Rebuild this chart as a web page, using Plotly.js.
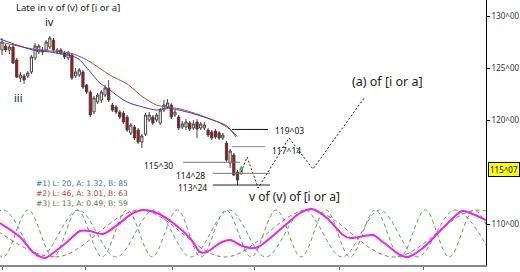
<!DOCTYPE html>
<html><head><meta charset="utf-8">
<script src="https://cdn.plot.ly/plotly-3.0.1.min.js"></script>
<style>html,body{margin:0;padding:0;background:#fff}#chart{width:520px;height:272px}</style>
</head><body><div id="chart"></div>
<script>
// ---- candles (bar index 0..65) ----
const candleOpen = [126.73,127.12,126.73,127.02,125.77,124.04,124.23,124.23,124.62,125.96,126.54,126.73,126.73,127.02,127.69,126.54,126.73,126.44,125.96,126.25,124.23,124.33,124.62,123.37,122.69,120.77,121.73,121.92,122.40,123.08,121.44,121.25,120.77,120.67,120.29,118.75,119.33,119.04,117.88,118.65,120.00,120.29,120.00,119.71,120.96,121.25,121.44,120.48,120.29,119.33,119.33,119.71,119.23,119.81,119.23,119.23,119.04,118.85,118.94,118.75,118.27,117.79,115.87,116.64,115.00,114.81];
const candleHigh = [127.89,127.31,127.21,127.31,125.96,124.62,124.42,124.71,126.25,127.40,127.31,127.02,127.69,128.08,127.89,126.92,126.92,126.64,126.64,126.44,125.00,125.00,124.81,123.46,122.88,122.31,122.60,122.88,123.37,123.85,121.64,121.44,120.96,120.87,120.48,119.71,119.52,119.23,118.65,120.67,120.77,120.48,120.67,121.15,121.92,122.02,121.64,120.96,120.48,119.90,120.10,119.90,120.00,120.10,119.81,119.81,119.23,119.04,119.13,118.94,118.75,117.98,117.21,116.83,115.19,115.58];
const candleLow = [126.25,126.54,126.35,125.39,124.04,123.65,123.46,124.04,124.42,125.77,126.35,126.25,126.54,126.83,126.54,126.35,126.25,125.87,125.77,123.85,124.04,124.13,122.98,122.50,120.29,120.58,121.54,121.64,122.21,121.73,120.77,120.58,120.10,119.62,118.85,118.56,118.08,117.69,117.31,118.46,119.81,119.52,119.81,119.52,120.77,121.06,120.10,120.29,119.04,119.13,119.04,118.94,119.04,118.27,119.04,119.04,118.37,118.08,118.17,118.08,118.08,115.96,115.38,114.62,113.75,114.71];
const candleClose = [127.50,126.73,127.02,125.48,124.13,124.33,123.85,124.52,126.06,127.12,127.12,126.54,127.50,127.89,126.73,126.73,126.44,126.06,126.44,124.04,124.62,124.81,123.17,122.69,120.48,122.12,122.40,122.69,123.08,121.92,120.96,120.77,120.29,119.81,119.04,119.52,118.27,117.88,118.46,120.48,120.48,119.71,120.48,120.96,121.44,121.64,120.29,120.77,119.23,119.62,119.81,119.13,119.62,119.13,119.62,119.52,118.56,118.27,118.37,118.27,118.56,116.15,117.02,114.71,114.23,115.38];

// ---- moving averages ----
const blueMAx = [-0.5,8.4,13,20.4,24,26.6,29.3,34,38.3,42,44.8,50.3,55.7,61.1,63.6];
const blueMA  = [127.79,126.73,126.54,125.96,124.62,123.56,122.88,121.73,121.25,120.96,121.15,120.77,120.19,119.42,118.37];
const brownMAx = [-0.5,8.4,13,18.5,23.1,29.3,34,38.3,42,44.8,48.4,53.8,59.2,61.4,63.9];
const brownMA  = [127.50,126.83,126.64,126.44,125.77,124.33,123.46,122.21,121.44,121.25,121.06,120.48,119.71,119.23,118.46];

// ---- cycle lines ----
const cyc1x = [-10.1,0.27,10.3,20.7,31,41.3,51.4,61.7,71.7,82.1,92.4,102.7,112.8,123.1,133.4];
const cyc1y = [106.83,111.35,106.83,111.35,106.83,111.35,106.83,111.35,106.83,111.35,106.83,111.35,106.83,111.35,106.83];
const cyc2x = [-8.4,14.4,37.5,60.6,83.4,106.5,129.4,152.5];
const cyc2y = [111.35,106.83,111.35,106.83,111.35,106.83,111.35,106.83];
const cyc3x = [-6.4,0.27,7.1,13.9,20.5,27.2,34,40.8,47.6,54.1,60.9,67.7,74.5,81.3,88,94.6,101.4,108.2,115,121.5,128.3,135.1];
const cyc3y = [111.35,106.83,111.35,106.83,111.35,106.83,111.35,106.83,111.35,106.83,111.35,106.83,111.35,106.83,111.35,106.83,111.35,106.83,111.35,106.83,111.35,106.83];
const compX = [-0.54,4.9,8.4,11.7,13.9,17.7,21.2,23.9,27.4,31.3,35.6,38.3,42.1,46.5,51.1,53.8,55.7,59.2,62,64.7,67.4,69.6,76.4,81,84.2,88.3,92.7,94.6,100.8,103.5,108.2,110.3,114.4,119.8,125,127.2,131.5];
const compY = [110.10,108.75,107.31,106.73,107.21,108.27,109.33,109.33,109.04,109.90,111.06,111.35,111.06,110.10,108.65,107.31,107.31,108.17,108.46,107.98,107.69,107.79,109.71,111.06,111.44,110.58,108.94,108.65,108.94,108.27,107.02,106.83,107.69,109.62,111.25,111.06,110.38];

// ---- projection path ----
const projX = [65,66.6,69.6,78,84.5,98.6];
const projY = [115.00,116.44,113.46,118.27,115.29,122.21];

// ---- levels ----
const levelVals = [119.09375,117.4375,115.9375,114.875,113.75];
const levelText = ['119^03','117^14','115^30','114^28','113^24'];
const lastPrice = 115.21875, lastText = '115^07';

const yTickVals = [110,120,125,130];
const yTickText = ['110^00','120^00','125^00','130^00'];
const xTickVals = [0.27,22.6,46.2,68.7,91.6,114.4];

const cycleLegend = ['#1) L: 20, A: 1.32, B: 85','#2) L: 46, A: 3.01, B: 63','#3) L: 13, A: 0.49, B: 59'];

// ---------------------------------------------------
const N = candleOpen.length;
const idx = candleOpen.map((_, i) => i);
const F = 'Noto Sans';
const traces = [];
function dline(x, y, color){ return {type:'scatter', mode:'lines', x, y, line:{color, width:1, dash:'4px,3px', shape:'spline', smoothing:1}, hoverinfo:'skip'}; }
traces.push(dline(cyc2x, cyc2y, '#b56a55'));
traces.push(dline(cyc1x, cyc1y, '#6c90b8'));
traces.push(dline(cyc3x, cyc3y, '#6f9656'));
traces.push({type:'scatter', mode:'lines', x:compX, y:compY, line:{color:'#ee22ee', width:2, shape:'spline', smoothing:0.8}, hoverinfo:'skip'});
traces.push({type:'scatter', mode:'lines', x:brownMAx, y:brownMA, line:{color:'#b54a3a', width:1, shape:'spline', smoothing:0.8}, hoverinfo:'skip'});
traces.push({type:'scatter', mode:'lines', x:blueMAx, y:blueMA, line:{color:'#3a3ad0', width:1, shape:'spline', smoothing:0.8}, hoverinfo:'skip'});
const cs = (a) => a.slice(0, N-1);
traces.push({type:'candlestick', x:cs(idx), open:cs(candleOpen), high:cs(candleHigh), low:cs(candleLow), close:cs(candleClose),
  increasing:{line:{color:'#444', width:1}, fillcolor:'#ffffff'},
  decreasing:{line:{color:'#444', width:1}, fillcolor:'#d00000'}, whiskerwidth:0, hoverinfo:'skip'});
const ls = (a) => a.slice(N-1);
traces.push({type:'candlestick', x:ls(idx), open:ls(candleOpen), high:ls(candleHigh), low:ls(candleLow), close:ls(candleClose),
  increasing:{line:{color:'#2fa02f', width:1}, fillcolor:'#ffffff'},
  decreasing:{line:{color:'#2fa02f', width:1}, fillcolor:'#ffffff'}, whiskerwidth:0, hoverinfo:'skip'});
traces.push({type:'scatter', mode:'lines', x:projX, y:projY, line:{color:'#222', width:1, dash:'2px,2px'}, hoverinfo:'skip'});

// layout helpers (pixel -> paper) for text placement
const PW = 486, PH = 265;
const px = (p) => p / PW, py = (p) => 1 - p / PH;

const levelLineX = [[62.5,72.3],[62.5,71.5],[49.2,64.7],[57.3,72.8],[57.3,72.8]];
const levelColor = ['#111','#888','#777','#777','#222'];
const shapes = levelVals.map((v, k) => ({type:'line', xref:'x', yref:'y', x0:levelLineX[k][0], x1:levelLineX[k][1], y0:v, y1:v, line:{color:levelColor[k], width:1}}));

const ann = [];
function txt(text, x, y, size, color, xanchor, yanchor){ ann.push({text, xref:'paper', yref:'paper', x:px(x), y:py(y), xanchor:xanchor||'left', yanchor:yanchor||'middle', showarrow:false, borderpad:0, font:{family:F, size, color}}); }
txt('Late in v of (v) of [i or a]', 15, 0, 9.5, '#222', 'left', 'top');
txt('iv', 49, 22, 11, '#222', 'center');
txt('iii', 18, 98, 11, '#222', 'center');
txt('(a) of [i or a]', 387, 82, 12.5, '#222', 'center');
txt('v of (v) of [i or a]', 248, 197, 12, '#222');
const legColors = ['#3f72ac','#a8483c','#5c7f3c'];
const legText = cycleLegend.map((t, k) => '<span style="color:' + legColors[k] + '">' + t + '</span>').join('<br>');
ann.push({text:legText, xref:'paper', yref:'paper', x:px(35), y:py(178), xanchor:'left', yanchor:'top', align:'left', showarrow:false, borderpad:0, font:{family:'DejaVu Sans', size:7.6, color:'#333'}});
// level labels (anchored on their level values)
const levelLabX = [74.0, 73.0, 46.8, 55.3, 55.9];
const levelAnchor = ['left','left','right','right','right'];
const levelDy = [-1, -4, -3, -2, -2];
levelVals.forEach((v, k) => ann.push({text:levelText[k], xref:'x', yref:'y', x:levelLabX[k], y:v, yshift:levelDy[k], xanchor:levelAnchor[k], yanchor:'middle', showarrow:false, borderpad:0, font:{family:F, size:8.5, color:'#111'}}));
ann.push({text:lastText, xref:'paper', yref:'y', x:1 + 1.5/PW, y:lastPrice, xanchor:'left', yanchor:'middle', showarrow:false, bgcolor:'#ffff00', bordercolor:'#000', borderwidth:1, borderpad:1, font:{family:F, size:8, color:'#000'}});

const layout = {
  width:520, height:272, margin:{l:0, r:34, t:0, b:7},
  paper_bgcolor:'#fff', plot_bgcolor:'#fff', showlegend:false, boxgap:0.15,
  xaxis:{range:[-0.54,131.52], showgrid:false, zeroline:false, showline:true, linecolor:'#888', linewidth:2,
         ticks:'outside', ticklen:3, tickcolor:'#666', tickvals:xTickVals, showticklabels:false,
         rangeslider:{visible:false}, fixedrange:true},
  yaxis:{range:[106.06,131.54], side:'right', showgrid:false, zeroline:false, showline:true, linecolor:'#000', linewidth:1,
         ticks:'outside', ticklen:3, tickcolor:'#000', tickvals:yTickVals, ticktext:yTickText,
         tickfont:{family:F, size:8, color:'#333'}, fixedrange:true},
  shapes, annotations:ann
};
Plotly.newPlot('chart', traces, layout, {staticPlot:true, displayModeBar:false});
</script></body></html>
